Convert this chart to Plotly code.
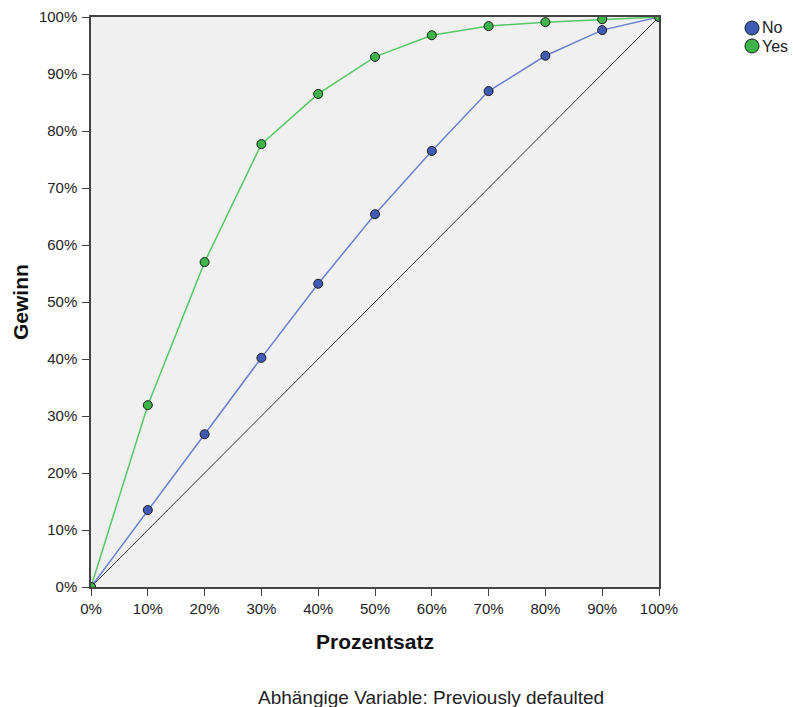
import plotly.graph_objects as go

pct = [0, 10, 20, 30, 40, 50, 60, 70, 80, 90, 100]
gain_no = [0, 13.5, 26.8, 40.2, 53.2, 65.4, 76.5, 87.0, 93.2, 97.7, 100]
gain_yes = [0, 31.9, 57.0, 77.7, 86.5, 93.0, 96.8, 98.4, 99.1, 99.6, 100]
tick_vals = [0, 10, 20, 30, 40, 50, 60, 70, 80, 90, 100]
tick_text = [f"{v}%" for v in tick_vals]
legend_names = ["No", "Yes"]

NO_MARK = "#3f5bb5"
YES_MARK = "#3cb44a"
FONT = "Liberation Sans, Arial"

W, H = 793, 707
PL, PR, PT, PB = 91, 659, 17, 587  # plot area in px


def px(sx):
    return (sx - PL) / (PR - PL)


def py(sy):
    return (PB - sy) / (PB - PT)


fig = go.Figure()
fig.add_trace(go.Scatter(x=[0, 100], y=[0, 100], mode="lines",
                         line=dict(color="#333333", width=1), showlegend=False, hoverinfo="skip"))
fig.add_trace(go.Scatter(x=pct, y=gain_no, mode="lines+markers", name="No", showlegend=False,
                         line=dict(color="#6a80cc", width=1.5),
                         marker=dict(color=NO_MARK, size=9, line=dict(color="#1a1a1a", width=1))))
fig.add_trace(go.Scatter(x=pct, y=gain_yes, mode="lines+markers", name="Yes", showlegend=False,
                         line=dict(color="#55c865", width=1.5),
                         marker=dict(color=YES_MARK, size=9, line=dict(color="#1a1a1a", width=1))))

axis_common = dict(range=[0, 100], tickvals=tick_vals, ticktext=tick_text, automargin=False,
                   showgrid=False, zeroline=False, showline=True, linecolor="#444444",
                   linewidth=1.5, mirror=True, ticks="outside", ticklen=7, tickcolor="#444444",
                   tickfont=dict(family=FONT, size=15, color="#222222"))

shapes = []
annotations = []
for i, (name, col) in enumerate(zip(legend_names, [NO_MARK, YES_MARK])):
    sy = 28 + i * 18
    shapes.append(dict(type="circle", xref="paper", yref="paper", xsizemode="pixel", ysizemode="pixel",
                       xanchor=px(752), yanchor=py(sy), x0=-7, x1=7, y0=-7, y1=7,
                       fillcolor=col, line=dict(color="#1a1a1a", width=1)))
    annotations.append(dict(text=name, xref="paper", yref="paper", x=px(760), y=py(sy),
                            xanchor="left", yanchor="middle", showarrow=False,
                            font=dict(family=FONT, size=16, color="#222222")))

# y-axis title
annotations.append(dict(text="<b>Gewinn</b>", xref="paper", yref="paper", x=px(20), y=0.5,
                        xanchor="center", yanchor="middle", textangle=-90, showarrow=False,
                        font=dict(family=FONT, size=21, color="#111111")))

annotations.append(dict(text="Abhängige Variable: Previously defaulted", xref="paper", yref="paper",
                        x=px(431), y=py(697), xanchor="center", yanchor="middle", showarrow=False,
                        font=dict(family=FONT, size=19, color="#222222")))

fig.update_layout(
    width=W, height=H,
    margin=dict(l=PL, r=W - PR, t=PT, b=H - PB, autoexpand=False),
    paper_bgcolor="white", plot_bgcolor="#f0f0f0",
    xaxis=dict(axis_common, title=dict(text="<b>Prozentsatz</b>", standoff=19,
               font=dict(family=FONT, size=21, color="#111111"))),
    yaxis=dict(axis_common, ticklabelstandoff=2),
    showlegend=False,
    shapes=shapes,
    annotations=annotations,
)
fig.write_html("out.html", config={"displayModeBar": False},
               post_script="document.body.style.margin='0';document.body.style.overflow='hidden';")
